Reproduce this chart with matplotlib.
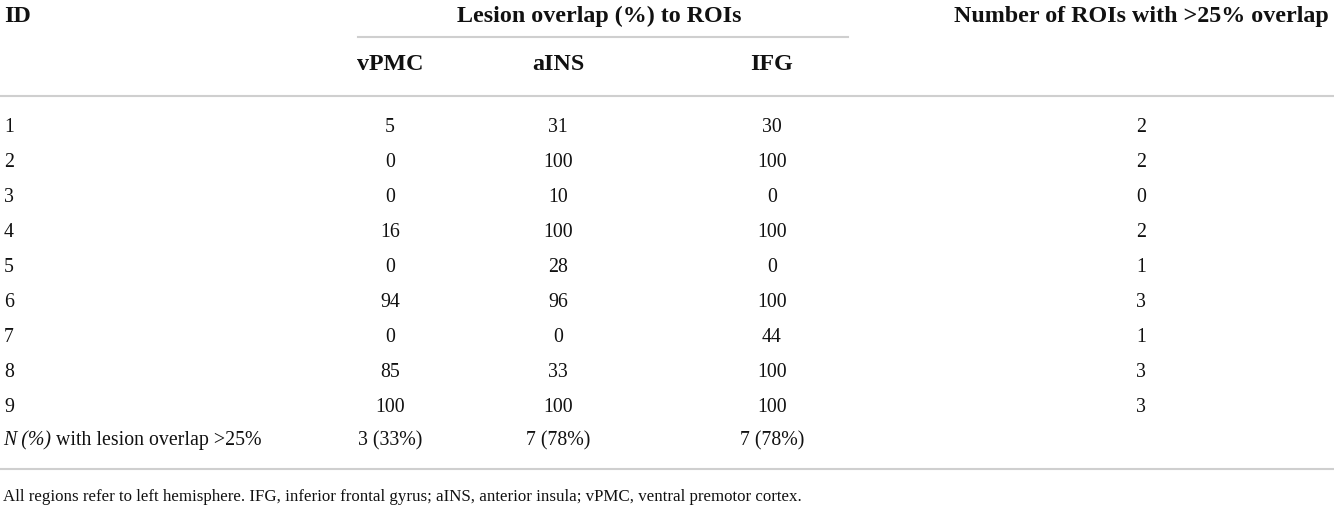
import matplotlib
matplotlib.use("Agg")
import matplotlib.pyplot as plt

plt.rcParams['font.family'] = ['Liberation Serif', 'DejaVu Serif']

ids = ["1", "2", "3", "4", "5", "6", "7", "8", "9"]
vpmc = [5, 0, 0, 16, 0, 94, 0, 85, 100]
ains = [31, 100, 10, 100, 28, 96, 0, 33, 100]
ifg = [30, 100, 0, 100, 0, 100, 44, 100, 100]
n_rois = [2, 2, 0, 2, 1, 3, 1, 3, 3]
summary = ["3 (33%)", "7 (78%)", "7 (78%)"]
roi_names = ["vPMC", "aINS", "IFG"]
footnote = ("All regions refer to left hemisphere. IFG, inferior frontal gyrus; "
            "aINS, anterior insula; vPMC, ventral premotor cortex.")

W, H = 1334, 508
fig = plt.figure(figsize=(W / 100, H / 100), dpi=100)
ax = fig.add_axes([0, 0, 1, 1])
ax.set_xlim(0, W)
ax.set_ylim(H, 0)
ax.axis("off")

col_x = [390, 558, 772]
num_x = 1141
line_c = "#cfcfcf"
ink = "#111111"
hdr = dict(fontsize=17.3, fontweight="bold", va="baseline", color=ink)
body = dict(fontsize=14.3, va="baseline", color=ink)

# headers
ax.text(4, 22, "ID", ha="left", **hdr)
ax.text(599, 22, "Lesion overlap (%) to ROIs", ha="center", **hdr)
ax.text(num_x, 22, "Number of ROIs with >25% overlap", ha="center", **hdr)
ax.plot([358, 848], [37, 37], color=line_c, lw=1.5)
for x, name in zip(col_x, roi_names):
    ax.text(x, 70, name, ha="center", **hdr)
ax.plot([0, W], [96, 96], color=line_c, lw=1.5)

# data rows
row_y0, row_dy = 132, 35
for i, pid in enumerate(ids):
    y = row_y0 + i * row_dy
    ax.text(4, y, pid, ha="left", **body)
    for x, vals in zip(col_x, [vpmc, ains, ifg]):
        ax.text(x, y, str(vals[i]), ha="center", **body)
    ax.text(num_x, y, str(n_rois[i]), ha="center", **body)

y = 445
lead = ax.text(3, y, "N (%)", ha="left", style="italic", **body)
ax.annotate(" with lesion overlap >25%", xy=(1, y), xycoords=(lead, "data"),
            ha="left", **body)
for x, s in zip(col_x, summary):
    ax.text(x, y, s, ha="center", **body)

ax.plot([0, W], [469, 469], color=line_c, lw=1.5)
ax.text(3, 501, footnote, ha="left", va="baseline", fontsize=12.2, color=ink)

fig.savefig("out.png", dpi=100)
